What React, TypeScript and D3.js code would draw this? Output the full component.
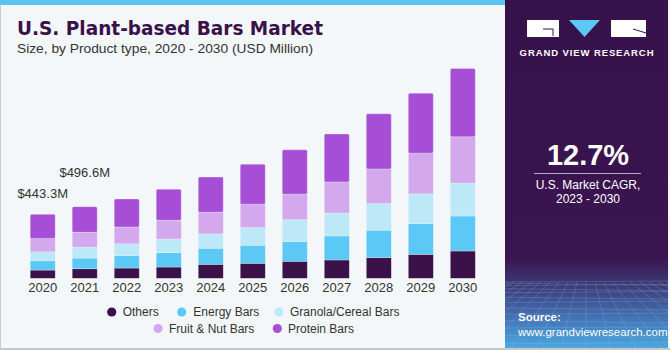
import React from "react";
import * as d3 from "d3";

const years = ["2020", "2021", "2022", "2023", "2024", "2025", "2026", "2027", "2028", "2029", "2030"];
const seriesNames = ["Others", "Energy Bars", "Granola/Cereal Bars", "Fruit & Nut Bars", "Protein Bars"];
const others = [57, 66, 71, 78, 97, 104, 118, 127, 143, 166, 189];
const energy = [64, 74, 85, 99, 111, 125, 136, 166, 190, 212, 242];
const granola = [62, 76, 83, 95, 99, 122, 152, 159, 184, 206, 228];
const fruitNut = [93, 102, 116, 129, 150, 162, 176, 215, 240, 282, 320];
const protein = [167, 178, 194, 215, 244, 277, 307, 332, 381, 415, 473];
const annotations = [
  { year: "2020", label: "$443.3M" },
  { year: "2021", label: "$496.6M" },
];
const cagr = "12.7%";

const colors = ["#3a1149", "#5bc8f5", "#bde8f8", "#d4a8ec", "#a64fd6"];
const annOffsets = [16, 30];

export default function App() {
  const series = [others, energy, granola, fruitNut, protein];
  const x = d3.scalePoint<string>().domain(years).range([42.7, 462.8]);
  const y = d3.scaleLinear().domain([0, 1000]).range([278.3, 133.8]);
  const bw = 25;

  const rows = years.map((yr, i) => {
    const o: any = { year: yr };
    seriesNames.forEach((s, k) => (o[s] = series[k][i]));
    return o;
  });
  const stacked = d3.stack<any>().keys(seriesNames)(rows);
  const totals = years.map((_, i) => series.reduce((a, s) => a + s[i], 0));

  const font = "'Liberation Sans', Arial, sans-serif";

  const legendItems = [
    { k: 0, cx: 111.7, tx: 122.7, cy: 312 },
    { k: 1, cx: 181.7, tx: 193.3, cy: 312 },
    { k: 2, cx: 279, tx: 290, cy: 312 },
    { k: 3, cx: 158, tx: 169, cy: 328.5 },
    { k: 4, cx: 277.3, tx: 288, cy: 328.5 },
  ];

  const gridLines: JSX.Element[] = [];
  const horizonY = 282;
  for (let i = 0; i < 14; i++) {
    const t = i / 13;
    const yy = horizonY + Math.pow(t, 1.6) * 70;
    gridLines.push(<line key={"h" + i} x1={505} x2={668} y1={yy} y2={yy + (i % 2 ? 2 : -1)} />);
  }
  for (let i = -12; i <= 12; i++) {
    const xTop = 586 + i * 9;
    const xBot = 586 + i * 26;
    gridLines.push(<line key={"v" + i} x1={xTop} y1={horizonY} x2={xBot} y2={352} />);
  }

  return (
    <svg width={670} height={350} style={{ position: "absolute", left: 0, top: 0, fontFamily: font }}>
      <defs>
        <linearGradient id="panelGrad" x1="0" y1="0" x2="0" y2="1">
          <stop offset="0" stopColor="#37114a" />
          <stop offset="0.74" stopColor="#3a1550" />
          <stop offset="0.82" stopColor="#3d3a78" />
          <stop offset="0.92" stopColor="#4477b8" />
          <stop offset="1" stopColor="#4aa8df" />
        </linearGradient>
        <clipPath id="panelClip">
          <rect x={505} y={0} width={163} height={348} />
        </clipPath>
      </defs>
      <rect x={0} y={0} width={670} height={350} fill="#f3f7fa" />
      <rect x={0} y={0} width={505} height={5} fill="#5cc3ee" />
      <rect x={0} y={5} width={1} height={345} fill="#c8cdd2" />
      <rect x={0} y={348} width={670} height={2} fill="#c8c8c8" />

      <rect x={505} y={0} width={163} height={348} fill="url(#panelGrad)" />
      <g clipPath="url(#panelClip)" stroke="#9ec4ea" strokeOpacity={0.28} strokeWidth={0.8}>
        {gridLines}
      </g>
      <rect x={527} y={20} width={32} height={17} fill="#ffffff" />
      <path d="M543,29 L553,29 L553,36" stroke="#37114a" strokeWidth={1} fill="none" />
      <path d="M569,20 L600,20 L584.5,37 Z" fill="#5bc8f5" />
      <rect x={611} y={20} width={35} height={17} fill="#ffffff" />
      <path d="M633,29 L646,33" stroke="#37114a" strokeWidth={1} fill="none" />
      <text x={587} y={55.5} fill="#ffffff" fontSize={9.5} fontWeight="bold" textAnchor="middle" letterSpacing={0.9}>
        GRAND VIEW RESEARCH
      </text>
      <text x={588} y={165} fill="#ffffff" fontSize={29} fontWeight="bold" textAnchor="middle">
        {cagr}
      </text>
      <line x1={534} x2={641} y1={173.5} y2={173.5} stroke="#b9a7c6" strokeWidth={1} />
      <text x={588} y={189} fill="#ffffff" fontSize={12} textAnchor="middle">
        U.S. Market CAGR,
      </text>
      <text x={588} y={203} fill="#ffffff" fontSize={12} textAnchor="middle">
        2023 - 2030
      </text>
      <text x={518} y={321} fill="#ffffff" fontSize={11.5} fontWeight="bold">
        Source:
      </text>
      <text x={518} y={336} fill="#ffffff" fontSize={11.5}>
        www.grandviewresearch.com
      </text>

      <text x={17} y={35} fill="#3a1149" fontSize={19} fontWeight="bold" fontFamily="'DejaVu Sans', sans-serif" textLength={306} lengthAdjust="spacingAndGlyphs">
        U.S. Plant-based Bars Market
      </text>
      <text x={17} y={53} fill="#333333" fontSize={13.5} textLength={296} lengthAdjust="spacingAndGlyphs">
        Size, by Product type, 2020 - 2030 (USD Million)
      </text>

      {stacked.map((layer, k) => (
        <g key={layer.key} fill={colors[k]}>
          {layer.map((d, i) => {
            const top = y(d[1]);
            const h = y(d[0]) - top;
            const cx = x(years[i]) as number;
            return (
              <rect
                key={i}
                x={cx - bw / 2}
                y={top}
                width={bw}
                height={h}
                rx={k === 4 ? 1.5 : 0}
                stroke="#f3f7fa"
                strokeOpacity={0.5}
                strokeWidth={0.6}
              />
            );
          })}
        </g>
      ))}

      {annotations.map((a, j) => {
        const i = years.indexOf(a.year);
        return (
          <text key={a.year} x={x(a.year) as number} y={y(totals[i]) - annOffsets[j]} fontSize={13} fill="#333333" textAnchor="middle">
            {a.label}
          </text>
        );
      })}

      {years.map((yr) => (
        <text key={yr} x={x(yr) as number} y={292} fontSize={13} fill="#333333" textAnchor="middle">
          {yr}
        </text>
      ))}

      {legendItems.map((it) => (
        <g key={it.k}>
          <circle cx={it.cx} cy={it.cy} r={4.6} fill={colors[it.k]} />
          <text x={it.tx} y={it.cy + 4.3} fontSize={12} fill="#333333">
            {seriesNames[it.k]}
          </text>
        </g>
      ))}
    </svg>
  );
}
